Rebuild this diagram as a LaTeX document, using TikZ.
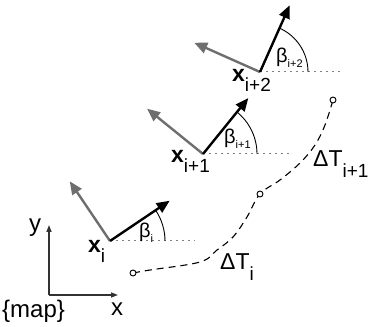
\documentclass[tikz,border=0pt]{standalone}
\usepackage{fontspec}
\setmainfont{Liberation Sans}
\usetikzlibrary{arrows.meta}
\definecolor{arrgray}{RGB}{110,110,110}
\definecolor{axgray}{RGB}{50,50,50}
\newcommand{\xlab}[1]{{\fontsize{23}{23}\selectfont\bfseries x}\raisebox{-10pt}{\fontsize{19}{19}\selectfont #1}}
\newcommand{\blab}[1]{{\fontsize{20}{20}\selectfont β}\raisebox{-5pt}{\fontsize{11}{11}\selectfont #1}}
\newcommand{\tlab}[1]{{\fontsize{23}{23}\selectfont ΔT}\raisebox{-11pt}{\fontsize{19}{19}\selectfont #1}}
\begin{document}
\begin{tikzpicture}[x=1pt,y=1pt,
  heading/.style={line width=2.4pt,-{Triangle[length=13pt,width=11pt]}},
  fwd/.style={heading,black},
  side/.style={heading,color=arrgray},
  ref/.style={gray,line width=1pt,dash pattern=on 2pt off 4pt},
  ang/.style={black,line width=0.9pt},
  traj/.style={black,line width=1.1pt,dash pattern=on 7pt off 5pt},
  waypt/.style={circle,draw=black,fill=white,line width=0.9pt,inner sep=0pt,minimum size=6pt},
  axis/.style={line width=1.4pt,color=axgray,-{Triangle[length=7pt,width=5pt]}},
  lbl/.style={inner sep=0pt,anchor=base west}
]
\useasboundingbox (0,0) rectangle (373,327);

% map frame
\coordinate (m0) at (49,32);
\coordinate (my) at (49,102);
\coordinate (mx) at (118,32);
\draw[axis] (m0) -- (my);
\draw[axis] (m0) -- (mx);
\node[lbl] (ylab) at (29,95) {\fontsize{24}{24}\selectfont y};
\node[lbl] (xlab) at (111,11) {\fontsize{24}{24}\selectfont x};
\node[lbl] (maplab) at (2,9) {\fontsize{24}{24}\selectfont\{map\}};

% trajectory
\draw[traj] plot[smooth,tension=0.6] coordinates {(133,54) (150,57) (200,65) (217,77) (233,90) (247,110) (260,133) (280,147) (300,164) (315,182) (325,202) (333,227)};
\node[waypt] (w1) at (133,54) {};
\node[waypt] (w2) at (260,133) {};
\node[waypt] (w3) at (333,227) {};

% pose i
\coordinate (o1) at (110,86);
\draw[ref] (o1) -- ++(85,0) coordinate (h1);
\draw[ang] (o1) ++(55,0) arc[start angle=0,end angle=34,radius=55];
\draw[side] (o1) -- ++(124:72) coordinate (s1);
\draw[fwd] (o1) -- ++(34:72) coordinate (f1);

% pose i+1
\coordinate (o2) at (203,173);
\draw[ref] (o2) -- ++(87,0) coordinate (h2);
\draw[ang] (o2) ++(54,0) arc[start angle=0,end angle=51,radius=54];
\draw[side] (o2) -- ++(141:72) coordinate (s2);
\draw[fwd] (o2) -- ++(51:72) coordinate (f2);

% pose i+2
\coordinate (o3) at (260,255);
\draw[ref] (o3) -- ++(83,0) coordinate (h3);
\draw[ang] (o3) ++(48,0) arc[start angle=0,end angle=66,radius=48];
\draw[side] (o3) -- ++(156:72) coordinate (s3);
\draw[fwd] (o3) -- ++(66:73) coordinate (f3);

% labels
\node[lbl] (xi) at (88,74) {\xlab{i}};
\node[lbl] (xi1) at (171,164) {\xlab{i+1}};
\node[lbl] (xi2) at (232,245) {\xlab{i+2}};
\node[lbl] (bi) at (139,89) {\blab{i}};
\node[lbl] (bi1) at (224,183) {\blab{i+1}};
\node[lbl] (bi2) at (276,264) {\blab{i+2}};
\node[lbl] (ti) at (220,57) {\tlab{i}};
\node[lbl] (ti1) at (313,160) {\tlab{i+1}};
\end{tikzpicture}
\end{document}
